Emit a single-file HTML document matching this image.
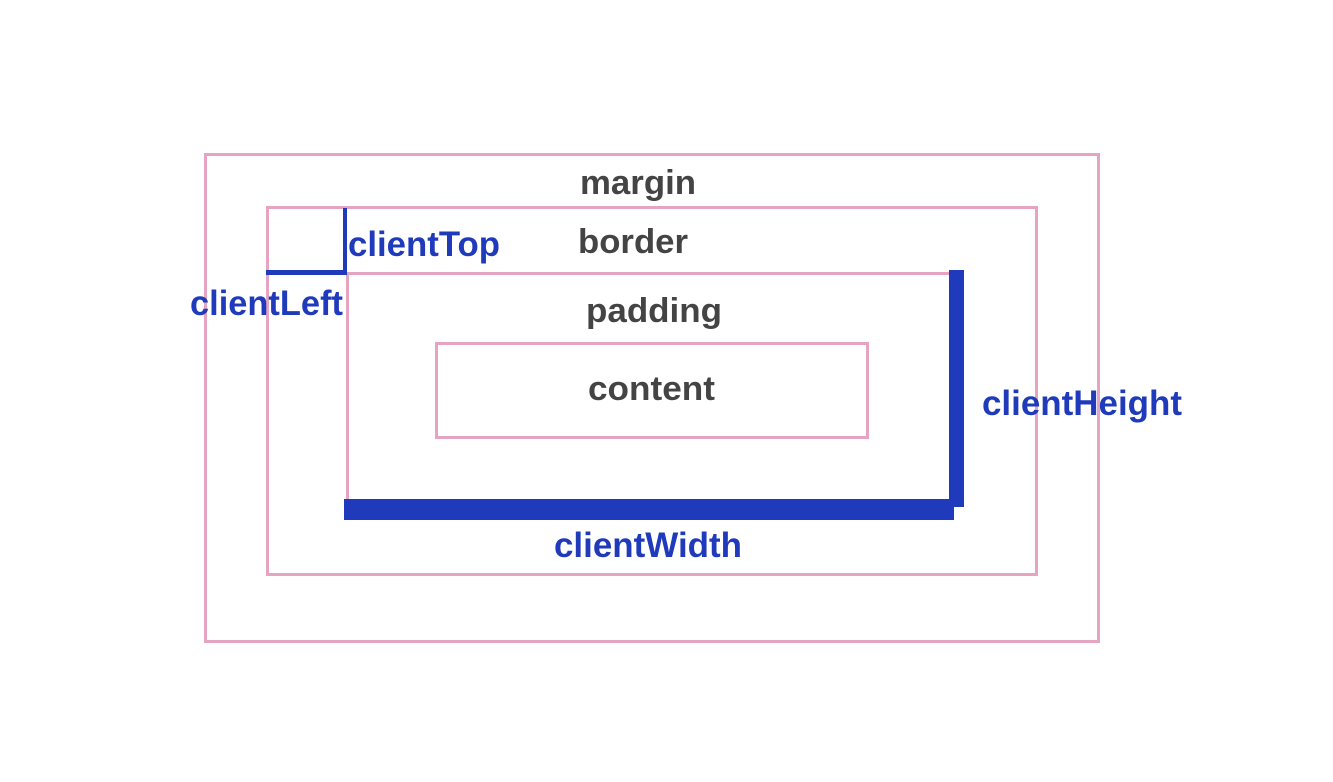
<!DOCTYPE html>
<html><head><meta charset="utf-8"><style>
html,body{margin:0;padding:0;background:#fff;}
svg{display:block;}
text{font-family:"Liberation Sans",sans-serif;}
</style></head><body>
<svg width="1333" height="782" viewBox="0 0 1333 782" xmlns="http://www.w3.org/2000/svg">
<rect width="1333" height="782" fill="#fff"/>
<g fill="none" stroke="#e6a3c2" stroke-width="3">
<rect x="205.5" y="154.5" width="893" height="487"/>
<rect x="267.5" y="207.5" width="769" height="367"/>
<rect x="347.5" y="273.5" width="603" height="235"/>
<rect x="436.5" y="343.5" width="431" height="94"/>
</g>
<g fill="#1f3bbb">
<rect x="949" y="270" width="15" height="237"/>
<rect x="344" y="499" width="610" height="21"/>
<rect x="343" y="208" width="4" height="67"/>
<rect x="266" y="270" width="81" height="5"/>
</g>
<g fill="#444" font-size="34" font-weight="bold">
<text x="580" y="194" textLength="116" lengthAdjust="spacingAndGlyphs">margin</text>
<text x="578" y="253" textLength="110" lengthAdjust="spacingAndGlyphs">border</text>
<text x="586" y="322" textLength="136" lengthAdjust="spacingAndGlyphs">padding</text>
<text x="588" y="400" textLength="127" lengthAdjust="spacingAndGlyphs">content</text>
</g>
<g fill="#1f3bbb" font-size="35" font-weight="bold">
<text x="348" y="256" textLength="152" lengthAdjust="spacingAndGlyphs">clientTop</text>
<text x="190" y="315" textLength="153" lengthAdjust="spacingAndGlyphs">clientLeft</text>
<text x="982" y="415" textLength="200" lengthAdjust="spacingAndGlyphs">clientHeight</text>
<text x="554" y="557" textLength="188" lengthAdjust="spacingAndGlyphs">clientWidth</text>
</g>
</svg>
</body></html>
